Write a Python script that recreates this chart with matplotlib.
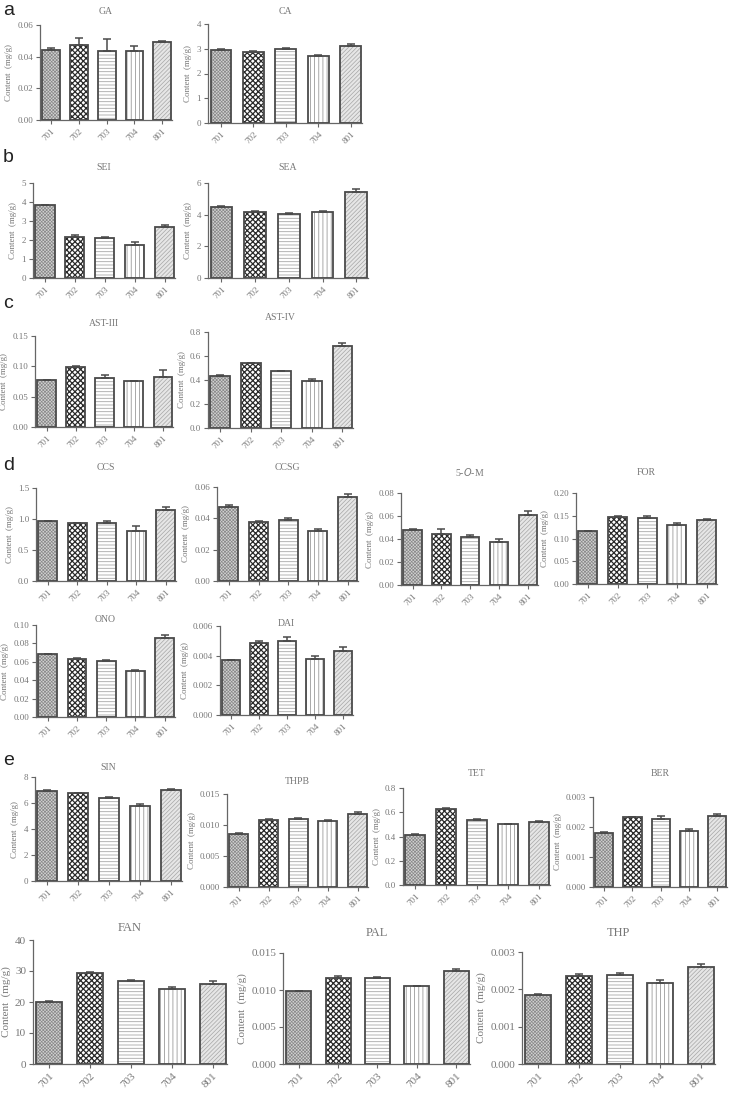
import matplotlib
matplotlib.use('Agg')
import matplotlib.pyplot as plt
import numpy as np

plt.rcParams['font.family'] = ['Liberation Serif', 'DejaVu Serif']
plt.rcParams['hatch.linewidth'] = 0.6

W, H = 729, 1093
fig = plt.figure(figsize=(W / 100, H / 100), dpi=100)

groups = ['701', '702', '703', '704', '801']

# mean content (mg/g) and upper error for each compound
ga_mean = [0.044, 0.0475, 0.0435, 0.0435, 0.049]
ga_err = [0.0015, 0.0045, 0.0075, 0.0035, 0.001]
ca_mean = [2.95, 2.87, 2.98, 2.72, 3.12]
ca_err = [0.02, 0.04, 0.06, 0.03, 0.08]
sei_mean = [3.82, 2.15, 2.10, 1.75, 2.67]
sei_err = [0.02, 0.10, 0.07, 0.15, 0.13]
sea_mean = [4.50, 4.18, 4.02, 4.18, 5.45]
sea_err = [0.02, 0.03, 0.08, 0.03, 0.18]
ast3_mean = [0.077, 0.099, 0.081, 0.076, 0.083]
ast3_err = [0.001, 0.001, 0.005, 0.0005, 0.011]
ast4_mean = [0.43, 0.54, 0.472, 0.392, 0.685]
ast4_err = [0.008, 0.005, 0.005, 0.018, 0.02]
ccs_mean = [0.97, 0.93, 0.935, 0.80, 1.15]
ccs_err = [0.005, 0.01, 0.03, 0.09, 0.05]
ccsg_mean = [0.047, 0.0378, 0.039, 0.032, 0.0535]
ccsg_err = [0.0018, 0.0005, 0.0015, 0.001, 0.0022]
som_mean = [0.048, 0.0445, 0.042, 0.0375, 0.061]
som_err = [0.0003, 0.0042, 0.0015, 0.0025, 0.0035]
for_mean = [0.116, 0.147, 0.145, 0.130, 0.141]
for_err = [0.001, 0.002, 0.004, 0.005, 0.001]
ono_mean = [0.068, 0.063, 0.061, 0.050, 0.086]
ono_err = [0.0005, 0.001, 0.0005, 0.0015, 0.003]
dai_mean = [0.0037, 0.00483, 0.00498, 0.00375, 0.0043]
dai_err = [0.00002, 0.00013, 0.00025, 0.0002, 0.0003]
sin_mean = [6.95, 6.75, 6.38, 5.80, 7.02]
sin_err = [0.05, 0.03, 0.07, 0.12, 0.07]
thpb_mean = [0.0086, 0.0108, 0.0110, 0.0107, 0.0118]
thpb_err = [0.0001, 0.0002, 0.0002, 0.0001, 0.0003]
tet_mean = [0.41, 0.625, 0.535, 0.50, 0.518]
tet_err = [0.01, 0.008, 0.01, 0.002, 0.01]
ber_mean = [0.0018, 0.00232, 0.00226, 0.00187, 0.00237]
ber_err = [0.00003, 0.00003, 0.0001, 0.00006, 0.00005]
fan_mean = [20.1, 29.5, 26.8, 24.1, 25.9]
fan_err = [0.2, 0.3, 0.3, 0.9, 1.0]
pal_mean = [0.0099, 0.0116, 0.0116, 0.0105, 0.0126]
pal_err = [0.00003, 0.0003, 0.0002, 0.0001, 0.0003]
thp_mean = [0.00184, 0.00236, 0.00238, 0.00216, 0.00259]
thp_err = [0.00003, 0.00006, 0.00006, 0.00008, 0.0001]

faces = ['#d2d2d2', 'white', 'white', 'white', '#e6e6e6']
hcols = ['#8a8a8a', '#2a2a2a', '#a8a8a8', '#9a9a9a', '#a6a6a6']
hatches = ['xxxxxxxxxx', 'xxxxxx', '-----', '||||', '////////']
hatch_lw = [0.5, 0.9, 0.6, 0.6, 0.5]
edge = '#4a4a4a'


def box(l, t, r, b):
    return [l / W, 1 - b / H, (r - l) / W, (b - t) / H]


def draw(title, mean, err, ymax, step, dec, bx, ty, fs=6.5, tfs=7):
    ax = fig.add_axes(box(*bx))
    x = np.arange(len(groups))
    for i in range(len(groups)):
        b = ax.bar(x[i], mean[i], 0.64, color=faces[i], edgecolor=hcols[i],
                   hatch=hatches[i], linewidth=0, zorder=2)
        b[0].set_hatch_linewidth(hatch_lw[i])
    ax.bar(x, mean, 0.64, fill=False, edgecolor=edge, linewidth=1.3, zorder=3)
    ax.errorbar(x, mean, yerr=[np.zeros(len(mean)), err], fmt='none',
                ecolor=edge, elinewidth=1.1, capsize=3, capthick=1.1, zorder=4)
    ax.set_xlim(-0.4, 4.35)
    ax.set_ylim(0, ymax)
    ticks = np.arange(0, ymax + step / 2, step)
    ax.set_yticks(ticks)
    ax.set_yticklabels([f'{t:.{dec}f}' for t in ticks])
    ax.set_xticks(x)
    ax.set_xticklabels(groups, rotation=45, ha='right', rotation_mode='anchor')
    for s in ['top', 'right']:
        ax.spines[s].set_visible(False)
    for s in ['left', 'bottom']:
        ax.spines[s].set_color('#666666')
        ax.spines[s].set_linewidth(0.9)
    ax.tick_params(direction='out', length=3, width=0.8, color='#666666',
                   labelcolor='#777777', labelsize=fs, pad=2)
    ax.set_ylabel('Content  (mg/g)', fontsize=fs, color='#777777', labelpad=3)
    cx = (bx[0] + bx[2]) / 2
    fig.text(cx / W, 1 - ty / H, title, fontsize=tfs, color='#777777',
             ha='center', va='center')
    return ax


draw('GA', ga_mean, ga_err, 0.06, 0.02, 2, (40, 25, 172, 120), 12)
draw('CA', ca_mean, ca_err, 4, 1, 0, (208, 24, 362, 123), 11)
draw('SEI', sei_mean, sei_err, 5, 1, 0, (33, 183, 175, 278), 168)
draw('SEA', sea_mean, sea_err, 6, 2, 0, (208, 183, 368, 278), 167)
draw('AST-III', ast3_mean, ast3_err, 0.15, 0.05, 2, (35, 336, 173, 427), 323)
draw('AST-IV', ast4_mean, ast4_err, 0.8, 0.2, 1, (208, 332, 353, 428), 318)
draw('CCS', ccs_mean, ccs_err, 1.5, 0.5, 1, (36, 488, 176, 581), 467)
draw('CCSG', ccsg_mean, ccsg_err, 0.06, 0.02, 2, (217, 487, 358, 581), 467)
draw('5-$\\mathit{O}$-M', som_mean, som_err, 0.08, 0.02, 2, (401, 493, 538, 585), 472)
draw('FOR', for_mean, for_err, 0.20, 0.05, 2, (576, 493, 717, 584), 472)
draw('ONO', ono_mean, ono_err, 0.10, 0.02, 2, (36, 625, 175, 717), 620)
draw('DAI', dai_mean, dai_err, 0.006, 0.002, 3, (220, 626, 353, 715), 623)
draw('SIN', sin_mean, sin_err, 8, 2, 0, (35, 777, 182, 881), 768)
draw('THPB', thpb_mean, thpb_err, 0.015, 0.005, 3, (227, 794, 368, 887), 782)
draw('TET', tet_mean, tet_err, 0.8, 0.2, 1, (403, 788, 550, 885), 773)
draw('BER', ber_mean, ber_err, 0.003, 0.001, 3, (593, 797, 727, 887), 774)
draw('FAN', fan_mean, fan_err, 40, 10, 0, (33, 940, 227, 1064), 928, fs=8, tfs=9)
draw('PAL', pal_mean, pal_err, 0.015, 0.005, 3, (283, 953, 470, 1064), 933, fs=8, tfs=9)
draw('THP', thp_mean, thp_err, 0.003, 0.001, 3, (522, 952, 715, 1064), 933, fs=8, tfs=9)

for letter, y in [('a', 15), ('b', 162), ('c', 308), ('d', 470), ('e', 765)]:
    fig.text(3 / W, 1 - y / H, letter, fontsize=14, family='Liberation Sans',
             color='#222222', va='baseline', ha='left')

fig.savefig('out.png', dpi=100)
